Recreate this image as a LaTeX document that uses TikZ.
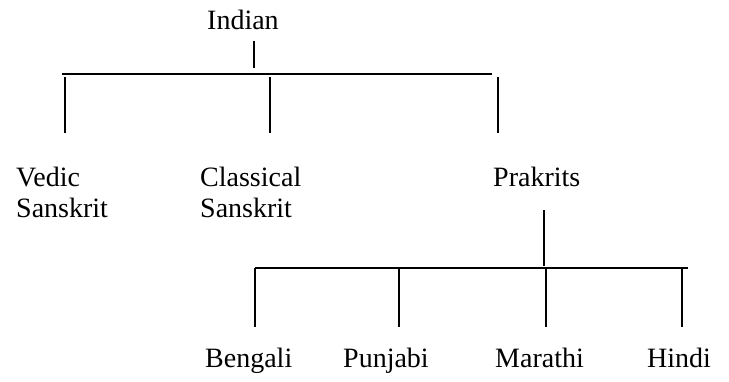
\documentclass[tikz,border=0pt]{standalone}
\usepackage{fontspec}
\setmainfont{Liberation Serif}
\usetikzlibrary{positioning}

\tikzset{
  lang/.style={anchor=base west, inner sep=0pt, align=left,
    font=\fontsize{28}{31}\selectfont},
  branch/.style={line width=1.3pt},
}

\begin{document}
\begin{tikzpicture}[x=1pt,y=-1pt]
  \useasboundingbox (0,0) rectangle (729,382);

  % languages (two-line nodes sit on their last line)
  \node[lang] (indian)    at (207,30)  {Indian};
  \node[lang] (vedic)     at (16,218)  {Vedic\\Sanskrit};
  \node[lang] (classical) at (200,218) {Classical\\Sanskrit};
  \node[lang] (prakrits)  at (493,187) {Prakrits};
  \node[lang] (bengali)   at (205,367) {Bengali};
  \node[lang] (punjabi)   at (343,367) {Punjabi};
  \node[lang] (marathi)   at (495,367) {Marathi};
  \node[lang] (hindi)     at (647,367) {Hindi};

  % first split
  \coordinate (indianTop) at (254,41);
  \coordinate (indianBot) at (254,68);
  \coordinate (barA1) at (62,74);
  \coordinate (barA2) at (492,74);
  \draw[branch] (indianTop) -- (indianBot);
  \draw[branch] (barA1) -- (barA2);
  \foreach \x/\n in {65/vedic, 270/classical, 498/prakrits}
    \draw[branch] (\x,77) coordinate (\n Up) -- (\x,133) coordinate (\n Down);

  % second split
  \coordinate (prakritsTop) at (544,210);
  \coordinate (prakritsBot) at (544,266);
  \coordinate (barB1) at (255,268);
  \coordinate (barB2) at (688,268);
  \draw[branch] (prakritsTop) -- (prakritsBot);
  \draw[branch] (barB1) -- (barB2);
  \foreach \x/\n in {255/bengali, 399/punjabi, 546/marathi, 682/hindi}
    \draw[branch] (\x,268) coordinate (\n Up) -- (\x,327) coordinate (\n Down);
\end{tikzpicture}
\end{document}
